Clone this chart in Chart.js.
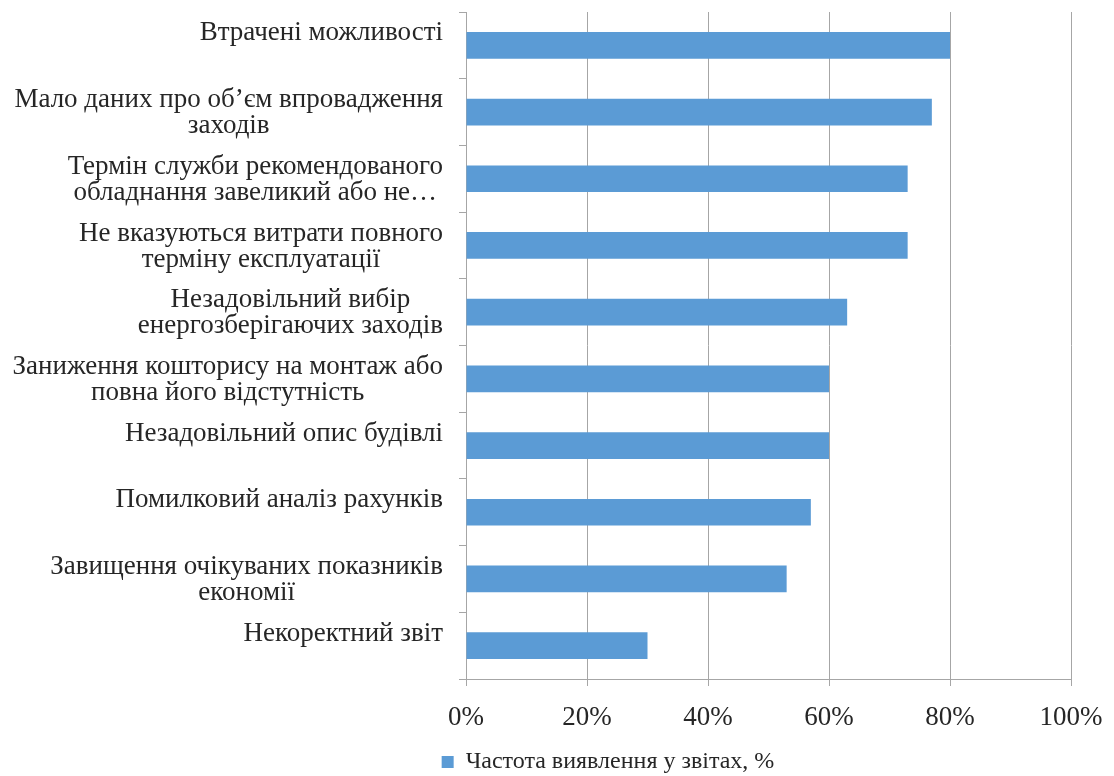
<!DOCTYPE html>
<html>
<head>
<meta charset="utf-8">
<script src="https://cdn.jsdelivr.net/npm/chart.js@4.4.0/dist/chart.umd.min.js"></script>
<style>
  html, body { margin: 0; padding: 0; background: #fff; }
  #wrap { width: 1114px; height: 776px; }
</style>
</head>
<body>
<div id="wrap"><canvas id="chart"></canvas></div>
<script>
const categories = [
  ['Втрачені можливості', ''],
  ['Мало даних про об’єм впровадження', 'заходів'],
  ['Термін служби рекомендованого', 'обладнання завеликий або не…'],
  ['Не вказуються витрати повного', 'терміну експлуатації'],
  ['Незадовільний вибір', 'енергозберігаючих заходів'],
  ['Заниження кошторису на монтаж або', 'повна його відстутність'],
  ['Незадовільний опис будівлі', ''],
  ['Помилковий аналіз рахунків', ''],
  ['Завищення очікуваних показників', 'економії'],
  ['Некоректний звіт', '']
];
const frequency = [80, 77, 73, 73, 63, 60, 60, 57, 53, 30];
const seriesName = 'Частота виявлення у звітах, %';
const xTicks = [0, 20, 40, 60, 80, 100];

const FONT = '"Liberation Serif", "Times New Roman", serif';
const TEXT = '#262626';
const GRID = '#a6a6a6';

// category labels drawn centred line by line, like the original
const catLabels = {
  id: 'catLabels',
  afterDraw(chart) {
    const y = chart.scales.y;
    const ctx = chart.ctx;
    ctx.save();
    ctx.font = '27px ' + FONT;
    ctx.fillStyle = TEXT;
    ctx.textAlign = 'center';
    ctx.textBaseline = 'middle';
    const lh = 26;
    categories.forEach((lines, i) => {
      const w = Math.max(...lines.map(l => ctx.measureText(l).width));
      const cx = y.right - 23 - w / 2;
      const cy = y.getPixelForValue(i) + 1;
      lines.forEach((l, k) => {
        ctx.fillText(l, cx, cy + (k - (lines.length - 1) / 2) * lh);
      });
    });
    ctx.restore();
  }
};

new Chart(document.getElementById('chart'), {
  type: 'bar',
  data: {
    labels: categories,
    datasets: [{
      label: seriesName,
      data: frequency,
      backgroundColor: '#5b9bd5',
      borderWidth: 0,
      barPercentage: 0.8,
      categoryPercentage: 0.5
    }]
  },
  options: {
    indexAxis: 'y',
    responsive: true,
    maintainAspectRatio: false,
    animation: false,
    layout: { padding: { left: 145, right: 43, top: 12, bottom: -8 } },
    scales: {
      x: {
        min: 0,
        max: 100,
        afterBuildTicks: (s) => { s.ticks = xTicks.map(v => ({ value: v })); },
        afterFit: (s) => { s.height = 68; s.paddingRight = 0; s.paddingLeft = 0; },
        grid: { color: GRID, tickLength: 7, lineWidth: 1 },
        border: { color: GRID },
        ticks: {
          color: TEXT,
          padding: 16,
          font: { family: FONT, size: 27 },
          callback: (v) => v + '%'
        }
      },
      y: {
        afterFit: (s) => { s.width = 321; },
        grid: { drawOnChartArea: false, color: GRID, tickLength: 7, offset: true },
        border: { color: GRID },
        ticks: { display: false }
      }
    },
    plugins: {
      legend: {
        position: 'bottom',
        labels: {
          color: TEXT,
          font: { family: FONT, size: 24 },
          boxWidth: 12,
          boxHeight: 12,
          padding: 3
        }
      },
      tooltip: { enabled: false }
    }
  },
  plugins: [catLabels]
});
</script>
</body>
</html>
